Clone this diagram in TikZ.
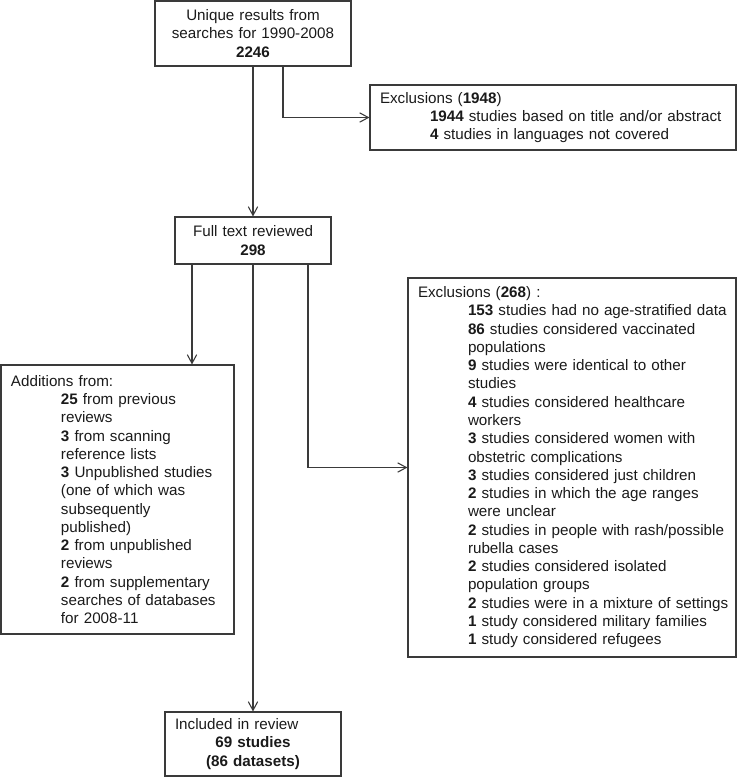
\documentclass[tikz,border=0pt]{standalone}
\usepackage{fontspec}
\setmainfont{Liberation Sans}
\usepackage{xcolor}
\usetikzlibrary{arrows.meta}
\definecolor{flowgray}{HTML}{3a3a3a}
\definecolor{flowtext}{HTML}{1a1a1a}
\newcommand{\ind}{\hspace*{37.5pt}}

\begin{document}
\begin{tikzpicture}[x=0.75pt, y=-0.75pt, >={Straight Barb[length=6.5pt,width=7pt]},
		flowbox/.style={draw=flowgray, line width=0.8pt, text=flowtext, inner xsep=7.5pt, inner ysep=0pt, font=\fontsize{11.4pt}{13.7pt}\selectfont},
		flowline/.style={color=flowgray, line width=0.8pt, ->}]
		\useasboundingbox (0,0) rectangle (737,779);
		\node[flowbox, text width=132pt, minimum height=48.75pt, align=center] (search) at (253,33.5) {Unique results from\\searches for 1990-2008\\\textbf{2246}};
		\node[flowbox, text width=259.5pt, minimum height=48.75pt, align=left] (excl1) at (553,117.5) {Exclusions (\textbf{1948})\\
			\ind\textbf{1944} studies based on title and/or abstract\\
			\ind\textbf{4} studies in languages not covered};
		\node[flowbox, text width=102pt, minimum height=35.25pt, align=center] (fulltext) at (253,240.5) {Full text reviewed\\\textbf{298}};
		\node[flowbox, text width=159.75pt, minimum height=201.75pt, align=left] (adds) at (117.5,499.5) {Additions from:\\
			\ind\textbf{25} from previous\\
			\ind reviews\\
			\ind\textbf{3} from scanning\\
			\ind reference lists\\
			\ind\textbf{3} Unpublished studies\\
			\ind(one of which was\\
			\ind subsequently\\
			\ind published)\\
			\ind\textbf{2} from unpublished\\
			\ind reviews\\
			\ind\textbf{2} from supplementary\\
			\ind searches of databases\\
			\ind for 2008-11};
		\node[flowbox, text width=231pt, minimum height=284.25pt, align=left] (excl2) at (572,467.5) {\begin{tabular}{@{}l@{}}Exclusions (\textbf{268}) :\\
			\ind\textbf{153} studies had no age-stratified data\\
			\ind\textbf{86} studies considered vaccinated\\
			\ind populations\\
			\ind\textbf{9} studies were identical to other\\
			\ind studies\\
			\ind\textbf{4} studies considered healthcare\\
			\ind workers\\
			\ind\textbf{3} studies considered women with\\
			\ind obstetric complications\\
			\ind\textbf{3} studies considered just children\\
			\ind\textbf{2} studies in which the age ranges\\
			\ind were unclear\\
			\ind\textbf{2} studies in people with rash/possible\\
			\ind rubella cases\\
			\ind\textbf{2} studies considered isolated\\
			\ind population groups\\
			\ind\textbf{2} studies were in a mixture of settings\\
			\ind\textbf{1} study considered military families\\
			\ind\textbf{1} study considered refugees\end{tabular}};
		\node[flowbox, text width=117pt, minimum height=48pt, align=center] (incl) at (253,744) {\hbox to \hsize{Included in review\hfil}\\\textbf{69 studies}\\\textbf{(86 datasets)}};
		\coordinate (searchr) at ([xshift=22.5pt]search.south);
		\coordinate (fulll) at ([xshift=-45.75pt]fulltext.south);
		\coordinate (fullr) at ([xshift=41.25pt]fulltext.south);
		\draw[flowline] (search) -- (fulltext);
		\draw[flowline] (searchr) |- (excl1.west);
		\draw[flowline] (fulll) -- (fulll |- adds.north);
		\draw[flowline] (fulltext) -- (incl);
		\draw[flowline] (fullr) |- (excl2.west);
	\end{tikzpicture}
\end{document}
